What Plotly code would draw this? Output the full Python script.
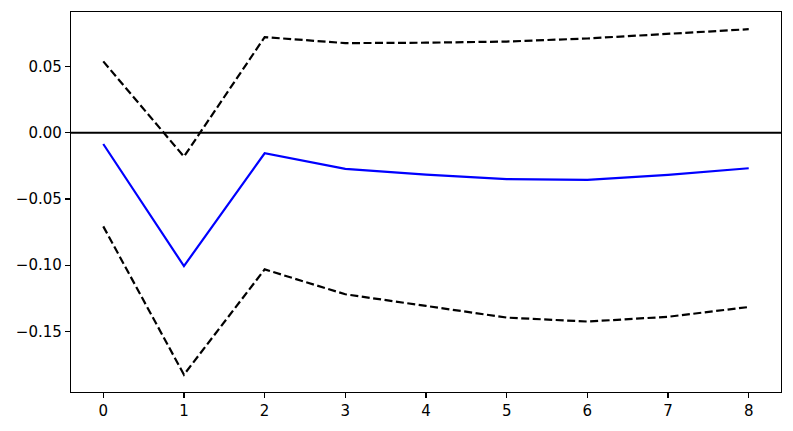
import plotly.graph_objects as go

periods = [0, 1, 2, 3, 4, 5, 6, 7, 8]
irf = [-0.0085, -0.1007, -0.0155, -0.0273, -0.0316, -0.0350, -0.0356, -0.0318, -0.0268]
upper = [0.0539, -0.0180, 0.0722, 0.0677, 0.0680, 0.0689, 0.0712, 0.0747, 0.0782]
lower = [-0.0707, -0.1827, -0.1032, -0.1220, -0.1308, -0.1396, -0.1426, -0.1390, -0.1316]

x_ticks = [0, 1, 2, 3, 4, 5, 6, 7, 8]
x_ticklabels = ["0", "1", "2", "3", "4", "5", "6", "7", "8"]
y_ticks = [0.05, 0.0, -0.05, -0.10, -0.15]
y_ticklabels = ["0.05", "0.00", "\u22120.05", "\u22120.10", "\u22120.15"]

fig = go.Figure()
fig.add_trace(go.Scatter(x=periods, y=irf, mode="lines",
                         line=dict(color="#0000ff", width=2.2), showlegend=False))
fig.add_trace(go.Scatter(x=periods, y=upper, mode="lines",
                         line=dict(color="black", width=2.2, dash="8px,3.5px"), showlegend=False))
fig.add_trace(go.Scatter(x=periods, y=lower, mode="lines",
                         line=dict(color="black", width=2.2, dash="8px,3.5px"), showlegend=False))
fig.add_hline(y=0, line=dict(color="black", width=2.2))

font = dict(family="DejaVu Sans", size=15, color="black")
axis_common = dict(showgrid=False, zeroline=False, showline=True, mirror=True,
                   linecolor="black", linewidth=1.2, ticks="outside", ticklen=5,
                   tickwidth=1.2, tickcolor="black", tickfont=font)

fig.update_xaxes(range=[-0.4, 8.4], tickvals=x_ticks, ticktext=x_ticklabels, **axis_common)
fig.update_yaxes(range=[-0.1958, 0.0912], tickvals=y_ticks, ticktext=y_ticklabels, **axis_common)

fig.update_layout(width=793, height=431, margin=dict(l=71, r=11, t=11, b=38),
                  plot_bgcolor="white", paper_bgcolor="white", font=font,
                  hovermode=False)

fig.write_html("out.html", config={"displayModeBar": False, "staticPlot": True},
               post_script="document.body.style.margin='0px';document.body.style.overflow='hidden';")
